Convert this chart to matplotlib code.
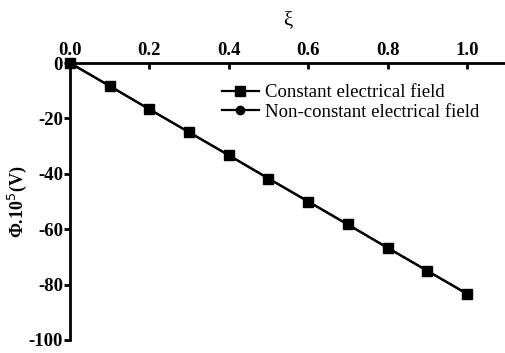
import matplotlib
matplotlib.use("Agg")
import matplotlib.pyplot as plt

xi = [0.0, 0.1, 0.2, 0.3, 0.4, 0.5, 0.6, 0.7, 0.8, 0.9, 1.0]
phi_constant = [0.0, -8.3, -16.7, -25.0, -33.3, -41.7, -50.0, -58.3, -66.7, -75.0, -83.3]
phi_nonconstant = [0.0, -8.3, -16.7, -25.0, -33.3, -41.7, -50.0, -58.3, -66.7, -75.0, -83.3]
xticks = [0.0, 0.2, 0.4, 0.6, 0.8, 1.0]
yticks = [0, -20, -40, -60, -80, -100]

plt.rcParams['font.family'] = ['Liberation Serif', 'DejaVu Serif']

fig = plt.figure(figsize=(5.05, 3.53), dpi=100)
ax = fig.add_axes([70/505, 1-340/353, 1-70/505, (340-63)/353])

ax.plot(xi, phi_nonconstant, '-o', color='black', lw=1.6, ms=6, clip_on=False,
        label='Non-constant electrical field')
ax.plot(xi, phi_constant, '-s', color='black', lw=1.6, ms=6.5, clip_on=False,
        label='Constant electrical field')

ax.set_xlim(0, 1.096)
ax.set_ylim(-100, 0)
ax.xaxis.tick_top()
ax.xaxis.set_label_position('top')
ax.set_xticks(xticks)
ax.set_xticklabels([f"{t:.1f}" for t in xticks])
ax.set_yticks(yticks)
ax.set_yticklabels([str(t) for t in yticks])
ax.tick_params(axis='x', direction='in', length=4, width=2, labelsize=13.5, pad=3)
ax.tick_params(axis='y', direction='out', length=4, width=2, labelsize=13.5, pad=1)
for lab in ax.get_xticklabels() + ax.get_yticklabels():
    lab.set_fontweight('bold')

for s in ['bottom', 'right']:
    ax.spines[s].set_visible(False)
for s in ['top', 'left']:
    ax.spines[s].set_linewidth(2)

ax.set_xlabel('ξ', fontsize=15, labelpad=12)
ax.set_ylabel(r'Φ.10$^5$(V)', fontsize=13, fontweight='bold', labelpad=0)

handles, labels = ax.get_legend_handles_labels()
ax.legend(handles[::-1], labels[::-1], loc='upper left', bbox_to_anchor=(0.31, 0.985),
          frameon=False, fontsize=13.5, handlelength=2.0, handletextpad=0.3,
          labelspacing=0.12)

fig.savefig('out.png', dpi=100)
